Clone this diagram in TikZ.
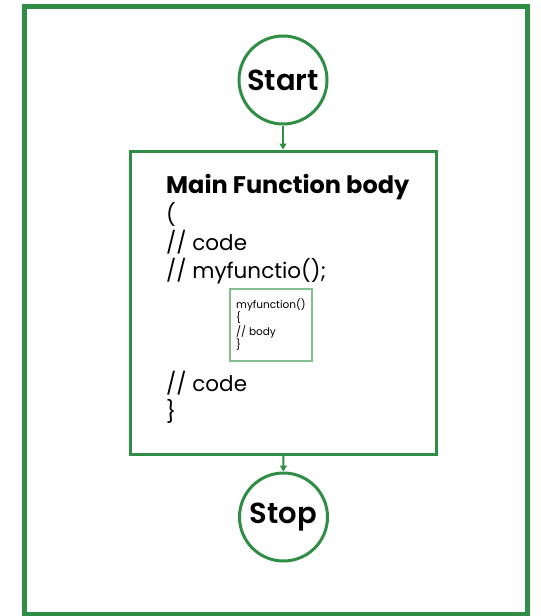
\documentclass[tikz,border=0pt]{standalone}
\usepackage{fontspec}
\setmainfont{Poppins}
\newfontfamily\termfont{Poppins SemiBold}
\usetikzlibrary{arrows.meta}
\definecolor{gfg}{RGB}{47,141,70}
\definecolor{gfglight}{RGB}{130,190,145}
\begin{document}
\begin{tikzpicture}[x=1pt,y=-1pt,
  term/.style={circle,draw=gfg,line width=3pt,minimum size=88pt,inner sep=0pt,font=\termfont\fontsize{29}{32}\selectfont},
  codeline/.style={anchor=base west,inner sep=0pt,font=\fontsize{21.5}{26}\selectfont},
  flow/.style={draw=gfg,line width=1.8pt,-{Triangle[length=6pt,width=7pt]}}]
\useasboundingbox (0,0) rectangle (541,616);
% frame
\draw[gfg,line width=5pt] (24,6) rectangle (527,614);
% terminals
\node[term] (start) at (283,80) {Start};
\node[term] (stop) at (283.5,517) {Stop};
% main body box
\node[draw=gfg,line width=3pt,minimum width=306pt,minimum height=303pt,inner sep=0pt] (body) at (283,302.5) {};
% code lines
\node[codeline,font=\fontsize{24}{28}\selectfont\bfseries] (title) at (166,193) {Main Function body};
\node[codeline] (open) at (166,222) {(};
\node[codeline] (c1) at (166,250) {// code};
\node[codeline] (call) at (166,278) {// myfunctio();};
\node[codeline] (c2) at (166,391) {// code};
\node[codeline] (close) at (166,419) {\}};
% called function box
\node[draw=gfglight,line width=1.3pt,minimum width=82pt,minimum height=72pt,inner sep=0pt] (fn) at (271,325) {};
\node[anchor=north west,inner sep=0pt,align=left,font=\fontsize{10.5}{13.5}\selectfont] (fntext) at (236,298) {myfunction()\\\{\\// body\\\}};
% connectors
\draw[flow] (start) -- (body);
\draw[flow] (body) -- (stop);
\end{tikzpicture}
\end{document}
